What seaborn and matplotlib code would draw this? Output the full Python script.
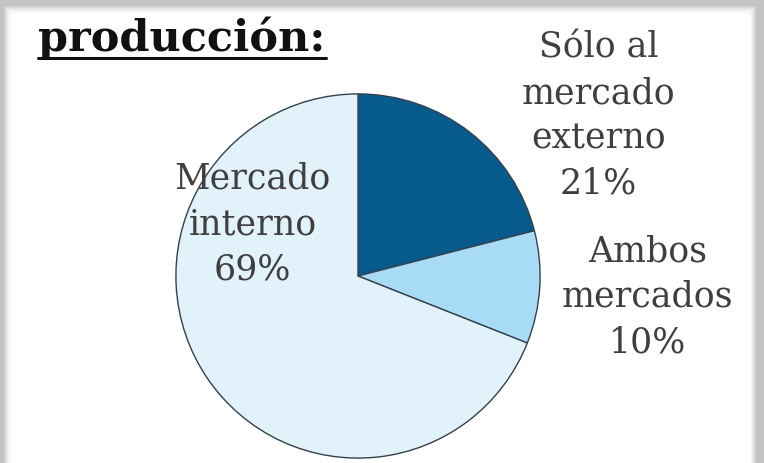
import matplotlib
matplotlib.use("Agg")
import matplotlib.pyplot as plt
from matplotlib.patches import Rectangle
import seaborn as sns

# data
categorias = ["Sólo al\nmercado\nexterno", "Ambos\nmercados", "Mercado\ninterno"]
porcentajes = [21, 10, 69]
colores = ["#075a8c", "#a8dcf6", "#e2f2fb"]
titulo = "producción:"

sns.set_theme(style="white")
plt.rcParams["font.family"] = ["DejaVu Serif", "DejaVu Sans"]

fig = plt.figure(figsize=(7.64, 4.63), dpi=100)
fig.patch.set_facecolor("#c4c4c4")

# shadow frame
for i, c in enumerate(["#cfcfcf", "#d9d9d9", "#e2e2e2", "#eaeaea", "#f1f1f1", "#f7f7f7"]):
    fig.add_artist(Rectangle(((4 + i) / 764, 0), (752 - 2 * i) / 764, (457 - i) / 463,
                             transform=fig.transFigure, facecolor=c, edgecolor="none", zorder=0))
fig.add_artist(Rectangle((11 / 764, 0), 740 / 764, 450 / 463,
                         transform=fig.transFigure, facecolor="white", edgecolor="none", zorder=0))

ax = fig.add_axes([(358 - 183) / 764, (463 - 276 - 183) / 463, 366 / 764, 366 / 463])
ax.set_facecolor("none")
wedges, _ = ax.pie(porcentajes, colors=colores, startangle=90, counterclock=False,
                   radius=1.0, wedgeprops=dict(edgecolor="#34414d", linewidth=1.0))
ax.set_xlim(-1.005, 1.005)
ax.set_ylim(-1.005, 1.005)
ax.set_aspect("equal")
ax.axis("off")

posiciones = [(1.32, 0.88), (1.59, -0.115), (-0.58, 0.285)]
for cat, p, (x, y) in zip(categorias, porcentajes, posiciones):
    ax.text(x, y, f"{cat}\n{p}%", ha="center", va="center", fontsize=25,
            color="#3f3f3f", linespacing=1.42, clip_on=False)

fig.text(38 / 764, 1 - 51 / 463, titulo, fontsize=31, fontweight="bold",
         color="#111111", ha="left", va="baseline")
fig.add_artist(plt.Line2D([38 / 764, 326 / 764], [1 - 58 / 463, 1 - 58 / 463],
                          transform=fig.transFigure, color="#111111", linewidth=2.2))

fig.savefig("out.png", dpi=100, facecolor=fig.get_facecolor())
